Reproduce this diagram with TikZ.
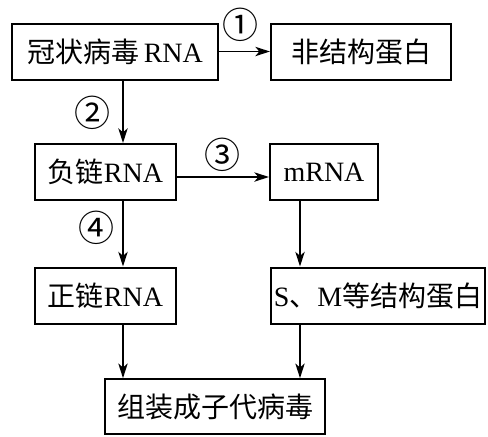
\documentclass[tikz,border=0pt]{standalone}
\usepackage{fontspec}
\setmainfont{Liberation Serif}
\newfontfamily\cjk{Noto Sans CJK SC}[Scale=1.0]
\usetikzlibrary{arrows.meta}
\tikzset{
  box/.style={draw, line width=1.5pt, minimum height=42pt, inner sep=0pt, font=\fontsize{21}{23}\selectfont},
  flow/.style={line width=1.2pt, -{Stealth[length=11pt, width=7pt, inset=3pt]}},
  tag/.style={font=\cjk\fontsize{27}{29}\selectfont, inner sep=0pt}
}
\begin{document}
\begin{tikzpicture}[x=0.75pt, y=-0.75pt]
  \useasboundingbox (0,0) rectangle (488,436);
  % boxes
  \node[box, minimum width=154pt] (rna) at (115,51.5) {{\cjk 冠状病毒}\,RNA};
  \node[box, minimum width=135pt] (nsp) at (361,51.5) {\cjk 非结构蛋白};
  \node[box, minimum width=106pt] (neg) at (105.5,172) {{\cjk 负链}RNA};
  \node[box, minimum width=81pt] (mrna) at (324,172) {mRNA};
  \node[box, minimum width=106pt] (pos) at (105.5,295.5) {{\cjk 正链}RNA};
  \node[box, minimum width=161pt] (sp) at (378,295.5) {S{\cjk 、}M{\cjk 等结构蛋白}};
  \node[box, minimum width=165pt, minimum height=41pt] (asm) at (215,406.5) {\cjk 组装成子代病毒};
  % column positions of the vertical connectors
  \coordinate (lc) at (123,0);
  \coordinate (rc) at (300,0);
  \coordinate (r3) at (0,177);
  % connectors
  \draw[flow] (rna.east) -- (nsp.west);
  \draw[flow] (rna.south -| lc) -- (neg.north -| lc);
  \draw[flow] (neg.east |- r3) -- (mrna.west |- r3);
  \draw[flow] (neg.south -| lc) -- (pos.north -| lc);
  \draw[flow] (mrna.south -| rc) -- (sp.north -| rc);
  \draw[flow] (pos.south -| lc) -- (asm.north -| lc);
  \draw[flow] (sp.south -| rc) -- (asm.north -| rc);
  % step numbers
  \node[tag] (t1) at (240,25) {①};
  \node[tag] (t2) at (92,113) {②};
  \node[tag] (t3) at (222,155) {③};
  \node[tag] (t4) at (96,228) {④};
\end{tikzpicture}
\end{document}
